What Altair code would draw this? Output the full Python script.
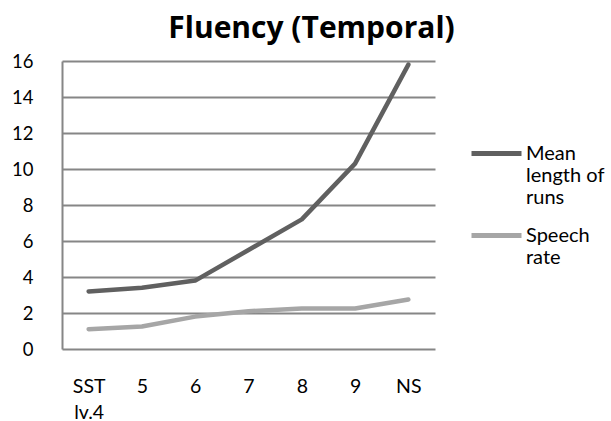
import altair as alt
import pandas as pd

categories = ["SST lv.4", "5", "6", "7", "8", "9", "NS"]
mean_length_of_runs = [3.2, 3.4, 3.8, 5.5, 7.2, 10.3, 15.8]
speech_rate = [1.1, 1.25, 1.8, 2.1, 2.25, 2.25, 2.75]
series_names = ["Mean length of runs", "Speech rate"]
series_colors = ["#606060", "#a6a6a6"]
y_ticks = [0, 2, 4, 6, 8, 10, 12, 14, 16]

rows = []
for name, vals in zip(series_names, [mean_length_of_runs, speech_rate]):
    for c, v in zip(categories, vals):
        rows.append({"cat": c, "series": name, "value": v})
df = pd.DataFrame(rows)

FONT = "Lato"
GRID = "#868686"
PAD = "\u00a0"

label_expr = (
    "datum.label == 'Mean length of runs' ? "
    f"['Mean', 'length of', 'runs'] : ['Speech', 'rate', '{PAD}']"
)

chart = (
    alt.Chart(df)
    .mark_line(strokeWidth=4.5, strokeCap="round", strokeJoin="round")
    .encode(
        x=alt.X(
            "cat:N",
            sort=categories,
            scale=alt.Scale(type="point", padding=0.5),
            axis=alt.Axis(
                title=None, domain=False, ticks=False, grid=False,
                labelAngle=0, labelFontSize=19.5, labelFont=FONT, labelColor="#000000",
                labelPadding=28, labelLineHeight=26,
                labelExpr="split(datum.label, ' ')",
            ),
        ),
        y=alt.Y(
            "value:Q",
            scale=alt.Scale(domain=[0, 16], nice=False, zero=True),
            axis=alt.Axis(
                title=None, values=y_ticks, domain=True, domainColor=GRID, domainWidth=2,
                ticks=False, grid=True, gridColor=GRID, gridWidth=2,
                labelFontSize=18.5, labelFont=FONT, labelColor="#000000", labelPadding=29,
            ),
        ),
        color=alt.Color(
            "series:N",
            scale=alt.Scale(domain=series_names, range=series_colors),
            legend=alt.Legend(
                title=None, orient="none", legendX=407, legendY=65,
                symbolType="stroke", symbolSize=2500, symbolStrokeWidth=5,
                labelFontSize=20, labelFont=FONT, labelColor="#000000",
                labelExpr=label_expr,
                labelBaseline="middle", labelOffset=2, rowPadding=-23,
            ),
        ),
    )
    .properties(
        width=373,
        height=288,
        autosize=alt.AutoSizeParams(type="none"),
        padding={"left": 62, "top": 61, "right": 176, "bottom": 72},
        title=alt.TitleParams(
            "Fluency (Temporal)", font="Open Sans", fontSize=30, fontWeight="bold",
            color="#000000", anchor="middle", dx=63, dy=38, offset=22, baseline="alphabetic",
        ),
    )
    .configure_view(stroke=None)
)

chart.save("out.html", embed_options={"renderer": "svg", "actions": False})
